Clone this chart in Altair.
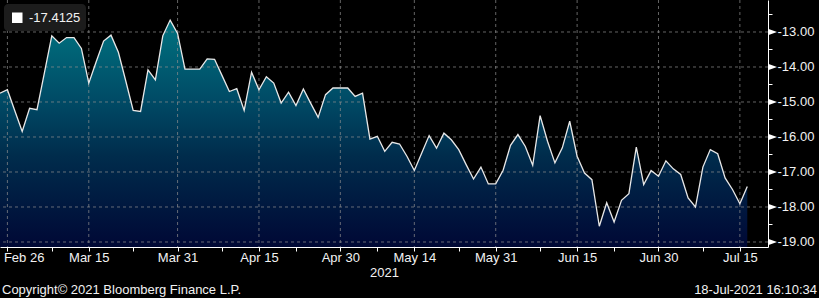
import altair as alt
import pandas as pd

# ---------------- data ----------------
start_date = "2021-02-25"
end_date = "2021-07-16"

values = [
    -14.75, -14.65, -15.25, -15.84, -15.18, -15.22, -14.17, -13.11, -13.32, -13.16,
    -13.16, -13.47, -14.46, -13.85, -13.26, -13.09, -13.58, -14.40, -15.24, -15.27,
    -14.08, -14.37, -13.11, -12.66, -13.04, -14.06, -14.06, -14.06, -13.77, -13.78,
    -14.24, -14.70, -14.62, -15.24, -14.15, -14.65, -14.28, -14.46, -15.03, -14.72,
    -15.10, -14.63, -15.04, -15.44, -14.79, -14.60, -14.60, -14.60, -14.84, -14.75,
    -16.06, -15.98, -16.41, -16.15, -16.20, -16.55, -16.96, -16.46, -15.96, -16.32,
    -15.89, -16.08, -16.36, -16.79, -17.20, -16.86, -17.34, -17.34, -16.95, -16.24,
    -15.93, -16.27, -16.81, -15.39, -16.12, -16.74, -16.31, -15.55, -16.55, -17.03,
    -17.22, -18.55, -17.88, -18.43, -17.81, -17.62, -16.29, -17.36, -16.96, -17.12,
    -16.68, -16.91, -17.07, -17.74, -18.00, -16.86, -16.36, -16.48, -17.17, -17.50,
    -17.91, -17.4125,
]

tick_dates = ["2021-02-26", "2021-03-15", "2021-03-31", "2021-04-15", "2021-04-30",
              "2021-05-14", "2021-05-31", "2021-06-15", "2021-06-30", "2021-07-15"]
tick_labels = ["Feb 26", "Mar 15", "Mar 31", "Apr 15", "Apr 30",
               "May 14", "May 31", "Jun 15", "Jun 30", "Jul 15"]
minor_dates = ["2021-03-08", "2021-03-23", "2021-04-08", "2021-04-22", "2021-05-07",
               "2021-05-24", "2021-06-08", "2021-06-22", "2021-07-08"]

y_major = [-19, -18, -17, -16, -15, -14, -13]
y_minor = [-18.5, -17.5, -16.5, -15.5, -14.5, -13.5, -12.5]

year_label = "2021"
copyright_text = "Copyright\u00a9 2021 Bloomberg Finance L.P."
timestamp_text = "18-Jul-2021 16:10:34"

# ---------------- build table ----------------
dates = pd.bdate_range(start_date, end_date)
date_str = [d.strftime("%Y-%m-%d") for d in dates]
assert len(date_str) == len(values)
series_name = f"{values[-1]:.4f}"
df = pd.DataFrame({"i": list(range(len(values))), "date": date_str,
                   "value": values})

major_idx = [date_str.index(d) for d in tick_dates]
minor_idx = [date_str.index(d) for d in minor_dates]

X_DOMAIN = [0, 103.8]
Y_DOMAIN = [-19.143, -12.086]
W, H = 768, 247

FONT = "Liberation Sans"
TXT = "#f2f2f2"
GRID = "#8f8f8f"

xscale = alt.Scale(domain=X_DOMAIN, nice=False, zero=False)
yscale = alt.Scale(domain=Y_DOMAIN, nice=False, zero=False)

idx_js = "[" + ",".join(str(v) for v in major_idx) + "]"
lab_js = "[" + ",".join(f"'{l}'" for l in tick_labels) + "]"
x_label_expr = f"indexof({idx_js}, datum.value) >= 0 ? {lab_js}[indexof({idx_js}, datum.value)] : ''"

x_axis = alt.Axis(
    values=sorted(major_idx + minor_idx), labelExpr=x_label_expr, grid=False,
    tickSize=4, tickColor="white", domainColor="white", domainWidth=1,
    labelColor=TXT, labelFont=FONT, labelFontSize=13, labelBaseline="alphabetic",
    labelPadding=10, labelFlush=10, labelFlushOffset=4, labelOverlap=False,
    title=year_label, titleColor=TXT, titleFont=FONT, titleFontSize=13,
    titleFontWeight="normal", titleBaseline="alphabetic", titleY=29, zindex=1,
)
y_axis = alt.Axis(
    orient="right", values=sorted(y_major + y_minor),
    labelExpr="datum.value % 1 == 0 ? '-' + format(-datum.value, '.2f') : ''",
    grid=False, tickSize=4, tickColor="white", domainColor="white", domainWidth=1,
    labelColor=TXT, labelFont=FONT, labelFontSize=13, labelPadding=5,
    labelOverlap=False, title=None, zindex=1,
)

gradient = alt.Gradient(
    gradient="linear",
    stops=[
        alt.GradientStop(color="#007380", offset=0),
        alt.GradientStop(color="#004b66", offset=0.35),
        alt.GradientStop(color="#002c4c", offset=0.6),
        alt.GradientStop(color="#000835", offset=1),
    ],
    x1=0, x2=0, y1=0, y2=1,
)

area = alt.Chart(df).mark_area(color=gradient).encode(
    x=alt.X("i:Q", scale=xscale, axis=x_axis),
    y=alt.Y("value:Q", scale=yscale, axis=y_axis),
    y2=alt.datum(Y_DOMAIN[0]),
)

vgrid = alt.Chart(pd.DataFrame({"i": major_idx})).mark_rule(
    color=GRID, strokeDash=[3, 3], strokeWidth=1, opacity=0.7
).encode(x=alt.X("i:Q", scale=xscale, axis=x_axis))

hgrid = alt.Chart(pd.DataFrame({"value": y_major})).mark_rule(
    color=GRID, strokeDash=[3, 3], strokeWidth=1, opacity=0.7
).encode(y=alt.Y("value:Q", scale=yscale, axis=y_axis))

line = alt.Chart(df).mark_line(strokeWidth=1.3, color="#e8e8e8").encode(
    x=alt.X("i:Q", scale=xscale, axis=x_axis),
    y=alt.Y("value:Q", scale=yscale, axis=y_axis),
)

# legend box (top-left key: white square + last value)
key_df = pd.DataFrame({"t": [series_name]})
key_box = alt.Chart(key_df).mark_rect(color="#1c1c1c", cornerRadius=4).encode(
    x=alt.value(4), x2=alt.value(86), y=alt.value(4), y2=alt.value(31)
)
key_square = alt.Chart(key_df).mark_rect(color="#ffffff").encode(
    x=alt.value(12), x2=alt.value(22.5), y=alt.value(12.5), y2=alt.value(23)
)
key_text = alt.Chart(key_df).mark_text(
    align="left", baseline="middle", font=FONT, fontSize=13, color=TXT
).encode(text="t:N", x=alt.value(29), y=alt.value(18))

tri = alt.Chart(pd.DataFrame({"value": y_major})).mark_point(
    shape="M-1,-0.72L1,0L-1,0.72Z", size=81, filled=True, color="white",
    opacity=1, strokeWidth=0,
).encode(y=alt.Y("value:Q", scale=yscale, axis=y_axis), x=alt.value(W + 4.5))

foot_left = alt.Chart(pd.DataFrame({"t": [copyright_text]})).mark_text(
    align="left", baseline="alphabetic", font=FONT, fontSize=13, color=TXT
).encode(text="t:N", x=alt.value(2), y=alt.value(294))

foot_right = alt.Chart(pd.DataFrame({"t": [timestamp_text]})).mark_text(
    align="right", baseline="alphabetic", font=FONT, fontSize=13, color=TXT
).encode(text="t:N", x=alt.value(817), y=alt.value(294))

chart = alt.layer(area, vgrid, hgrid, line, key_box, key_square, key_text, tri,
                  foot_left, foot_right).properties(
    width=W, height=H,
    autosize=alt.AutoSizeParams(type="none"),
    padding={"left": 0, "top": 0, "right": 51, "bottom": 51},
).configure(background="#000000").configure_view(stroke=None)

chart.save("out.html", embed_options={"renderer": "svg", "actions": False})
